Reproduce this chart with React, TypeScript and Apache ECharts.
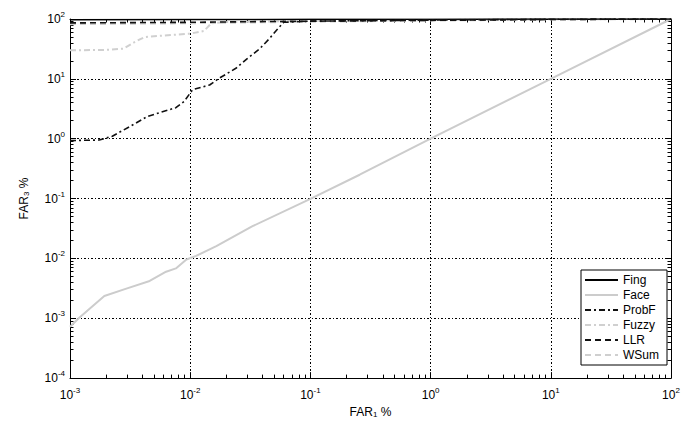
import React, { useEffect, useRef } from "react";
import * as echarts from "echarts";

const xTicks = [0.001, 0.01, 0.1, 1, 10, 100];
const yTicks = [0.0001, 0.001, 0.01, 0.1, 1, 10, 100];

const fing: [number, number][] = [
  [0.001, 97], [0.01, 98], [0.1, 99], [1, 99.5], [10, 100], [100, 100],
];
const face: [number, number][] = [
  [0.001, 0.00072], [0.0012, 0.00103], [0.00193, 0.00235], [0.0029, 0.0031],
  [0.0046, 0.0042], [0.0063, 0.006], [0.0076, 0.0068], [0.0093, 0.0096],
  [0.0112, 0.011], [0.0165, 0.016], [0.033, 0.0345], [0.1, 0.099],
  [0.257, 0.25], [1, 1], [10, 10], [100, 100],
];
const probF: [number, number][] = [
  [0.001, 0.93], [0.00175, 0.95], [0.00225, 1.1], [0.0035, 1.8], [0.0044, 2.35],
  [0.0076, 3.3], [0.0089, 4.2], [0.01, 5.8], [0.0105, 6.6], [0.0145, 7.9],
  [0.0175, 10.3], [0.024, 15], [0.03, 22], [0.038, 32], [0.046, 48],
  [0.054, 70], [0.06, 88], [0.1, 92], [1, 96], [10, 99], [100, 100],
];
const fuzzy: [number, number][] = [
  [0.001, 30], [0.002, 30.5], [0.0028, 32], [0.0035, 42], [0.0042, 50],
  [0.006, 53], [0.01, 57], [0.013, 63], [0.015, 85], [0.02, 89],
  [0.1, 93], [1, 96], [10, 99], [100, 100],
];
const llr: [number, number][] = [
  [0.001, 86], [0.003, 87], [0.01, 88], [0.03, 90], [0.1, 92], [1, 95], [10, 98], [100, 100],
];
const wsum: [number, number][] = [
  [0.001, 82], [0.01, 85], [0.1, 90], [1, 94], [10, 98], [100, 100],
];

const FONT = "Liberation Sans, Arial, sans-serif";

const expLabel = (v: number) => {
  const e = Math.round(Math.log10(v));
  return `{b|10}{s|${e}}`;
};

const labelRich = {
  b: { fontSize: 12, fontFamily: FONT, color: "#000" },
  s: { fontSize: 8, fontFamily: FONT, color: "#000", padding: [0, 0, 9, 0] },
};

export default function App() {
  const ref = useRef<HTMLDivElement>(null);
  useEffect(() => {
    if (!ref.current) return;
    const chart = echarts.init(ref.current, undefined, { renderer: "svg" });
    const baseAxis = {
      type: "log" as const,
      logBase: 10,
      axisLine: { show: true, lineStyle: { color: "#000", width: 1 } },
      axisTick: { show: true, inside: true, length: 6, lineStyle: { color: "#000" } },
      minorTick: { show: true, splitNumber: 9, length: 3.5, lineStyle: { color: "#000" } },
    };
    const gridLine = { show: true, lineStyle: { color: "#000", type: [2, 2, 1, 2], width: 1 } };
    const line = (name: string, data: [number, number][], color: string, width: number, type: any, z: number) => ({
      name,
      type: "line",
      data,
      symbol: "none",
      xAxisIndex: 0,
      yAxisIndex: 0,
      lineStyle: { color, width, type },
      itemStyle: { color },
      z,
    });
    const nameStyle = {
      fontSize: 12, fontFamily: FONT, color: "#000",
      rich: { sub: { fontSize: 8, fontFamily: FONT, color: "#000", padding: [0, 0, -5, 0] } },
    };
    chart.setOption({
      animation: false,
      backgroundColor: "#fff",
      textStyle: { fontFamily: FONT },
      grid: { left: 70, right: 19, top: 19, bottom: 43, containLabel: false },
      xAxis: [
        {
          ...baseAxis,
          min: xTicks[0],
          max: xTicks[xTicks.length - 1],
          position: "bottom",
          splitLine: gridLine,
          axisLabel: { formatter: expLabel, rich: labelRich, margin: 8 },
          name: "FAR{sub|1} %",
          nameLocation: "middle",
          nameGap: 24,
          nameTextStyle: nameStyle,
        },
        {
          ...baseAxis,
          min: xTicks[0],
          max: xTicks[xTicks.length - 1],
          position: "top",
          splitLine: { show: false },
          axisLabel: { show: false },
        },
      ],
      yAxis: [
        {
          ...baseAxis,
          min: yTicks[0],
          max: yTicks[yTicks.length - 1],
          position: "left",
          splitLine: gridLine,
          axisLabel: { formatter: expLabel, rich: labelRich, margin: 5 },
          name: "FAR{sub|3} %",
          nameLocation: "middle",
          nameGap: 40,
          nameTextStyle: nameStyle,
        },
        {
          ...baseAxis,
          min: yTicks[0],
          max: yTicks[yTicks.length - 1],
          position: "right",
          splitLine: { show: false },
          axisLabel: { show: false },
        },
      ],
      legend: {
        orient: "vertical",
        left: 581,
        top: 270,
        padding: [4, 8, 4, 3],
        itemWidth: 33,
        itemHeight: 14,
        itemGap: 3,
        backgroundColor: "#fff",
        borderColor: "#000",
        borderWidth: 1,
        borderRadius: 0,
        itemStyle: { opacity: 0 },
        textStyle: { fontSize: 12, fontFamily: FONT, color: "#000" },
        data: ["Fing", "Face", "ProbF", "Fuzzy", "LLR", "WSum"],
      },
      series: [
        line("Fing", fing, "#000", 1.5, "solid", 3),
        line("Face", face, "#cccccc", 2, "solid", 2),
        line("ProbF", probF, "#111", 1.6, [6, 3, 2, 3], 4),
        line("Fuzzy", fuzzy, "#d0d0d0", 2, [6, 3, 2, 3], 2),
        line("LLR", llr, "#111", 1.6, [6, 4], 5),
        line("WSum", wsum, "#cfcfcf", 2, [6, 4], 2),
      ],
    });
    return () => chart.dispose();
  }, []);
  return <div ref={ref} style={{ position: "fixed", left: 0, top: 0, width: 690, height: 423 }} />;
}
